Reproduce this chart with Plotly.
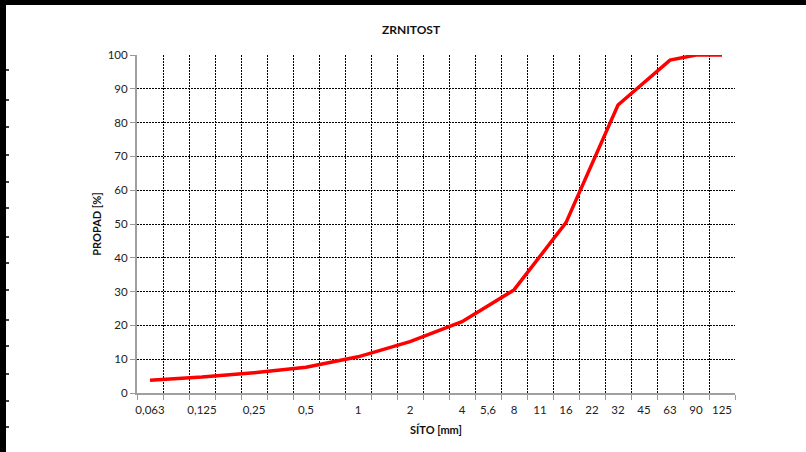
import plotly.graph_objects as go

# ---- data ----
sieve_labels = ["0,063", "", "0,125", "", "0,25", "", "0,5", "", "1", "", "2", "",
                "4", "5,6", "8", "11", "16", "22", "32", "45", "63", "90", "125"]
passing = [3.8, None, 4.7, None, 6.0, None, 7.6, None, 10.7, None, 15.2, None,
           21.1, None, 30.5, None, 50.4, None, 85.2, None, 98.5, 100, 100]
y_ticks = [0, 10, 20, 30, 40, 50, 60, 70, 80, 90, 100]

title_text = "ZRNITOST"
x_title = "SÍTO [mm]"
y_title = "PROPAD [%]"

# unique category names (blank labels become distinct whitespace strings)
categories = [lab if lab else " " * (i + 1) for i, lab in enumerate(sieve_labels)]

FONT = "Lato"

fig = go.Figure()
fig.add_trace(go.Scatter(
    x=categories, y=passing, mode="lines", connectgaps=True,
    line=dict(color="#FF0000", width=3.5), hoverinfo="skip", showlegend=False,
))

fig.update_layout(
    width=806, height=452,
    margin=dict(l=137, r=71, t=55, b=59, autoexpand=False),
    paper_bgcolor="white", plot_bgcolor="white",
    font=dict(family=FONT, size=11, color="#222222"),
    title=dict(text="<b>%s</b>" % title_text, x=0.51, xanchor="center",
               y=0.935, yanchor="middle", font=dict(family=FONT, size=12, color="#111111")),
    showlegend=False,
)

GRID_DASH = "2px,1px"

fig.update_xaxes(
    type="category", categoryorder="array", categoryarray=categories,
    range=[-0.5, len(categories) - 0.5], tickangle=0, automargin=False,
    tickson="boundaries", ticks="outside", ticklen=5, tickcolor="#9a9a9a", tickwidth=1,
    ticklabelstandoff=5,
    showline=True, linecolor="#a0a0a0", linewidth=2,
    showgrid=True, gridcolor="#000000", griddash=GRID_DASH, gridwidth=1,
    tickfont=dict(family=FONT, size=11.5, color="#222222"),
    title=dict(text="<b>%s</b>" % x_title, font=dict(family=FONT, size=11, color="#111111"), standoff=12),
    fixedrange=True, zeroline=False,
)
fig.update_yaxes(
    range=[0, 100], tickvals=y_ticks, ticks="outside", ticklen=5, tickcolor="#9a9a9a", tickwidth=1,
    showline=True, linecolor="#a0a0a0", linewidth=2, automargin=False,
    showgrid=True, gridcolor="#000000", griddash=GRID_DASH, gridwidth=1,
    tickfont=dict(family=FONT, size=11.5, color="#222222"),
    title=dict(text="<b>%s</b>" % y_title, font=dict(family=FONT, size=11, color="#111111"), standoff=4),
    fixedrange=True, zeroline=False,
)

# dark frame edges seen in the screenshot (top bar, left bar with notches)
shapes = [
    dict(type="rect", xref="paper", yref="paper", x0=-137 / 598, x1=1 + 71 / 598,
         y0=1 + 50 / 338, y1=1 + 55 / 338, fillcolor="black", line=dict(width=0), layer="above"),
    dict(type="rect", xref="paper", yref="paper", x0=-137 / 598, x1=-131 / 598,
         y0=-59 / 338, y1=1 + 55 / 338, fillcolor="black", line=dict(width=0), layer="above"),
]
for py in [70, 100, 127, 155, 182, 208, 237, 263, 290, 320, 346, 374, 401, 427]:
    yy = 1 - (py - 55) / 338
    shapes.append(dict(type="line", xref="paper", yref="paper", x0=-131 / 598, x1=-128 / 598,
                       y0=yy, y1=yy, line=dict(color="black", width=1.5), layer="above"))
fig.update_layout(shapes=shapes)

fig.write_html(
    "out.html", config={"displayModeBar": False},
    post_script="document.body.style.margin='0';document.body.style.padding='0';"
                "document.documentElement.style.overflow='hidden';",
)
